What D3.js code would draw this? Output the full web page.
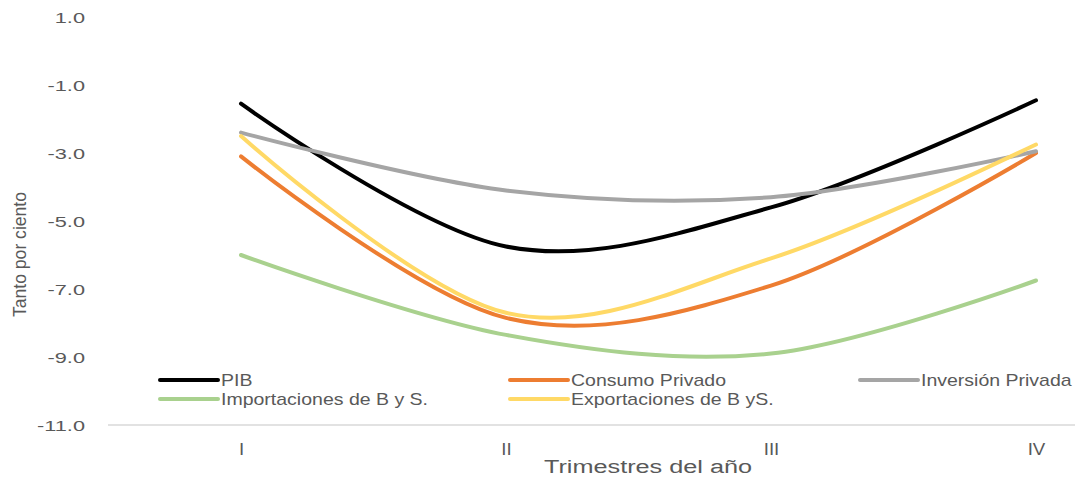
<!DOCTYPE html>
<html>
<head>
<meta charset="utf-8">
<script src="https://cdn.jsdelivr.net/npm/d3@7"></script>
<style>
  html, body { margin: 0; padding: 0; background: #ffffff; }
  svg { display: block; }
</style>
</head>
<body>
<svg id="chart" width="1080" height="480"></svg>
<script>
// Quarters of the year
const categories = ["I", "II", "III", "IV"];

// Quarterly change, in percent
const pib            = [-1.55, -5.75, -4.6, -1.45];
const consumo        = [-3.1, -7.85, -6.9, -3.0];
const inversion      = [-2.4, -4.1, -4.3, -2.95];
const importaciones  = [-6.0, -8.35, -8.9, -6.75];
const exportaciones  = [-2.5, -7.7, -6.1, -2.75];

const seriesNames  = ["PIB", "Consumo Privado", "Inversión Privada", "Importaciones de B y S.", "Exportaciones de B yS."];
const seriesColors = ["#000000", "#ED7D31", "#A5A5A5", "#A9D18E", "#FFD966"];
const seriesValues = [pib, consumo, inversion, importaciones, exportaciones];

const yTicks = [1, -1, -3, -5, -7, -9, -11];
const yTitle = "Tanto por ciento";
const xTitle = "Trimestres del año";

const sans = "'Liberation Sans', Arial, sans-serif";
const textColor = "#595959";

const svg = d3.select("#chart");

const y = d3.scaleLinear().domain([-11, 1]).range([425, 17]);
const x = d3.scalePoint().domain(categories).range([241, 1036]);

const fmt = d3.formatLocale({decimal: ".", thousands: ",", grouping: [3], currency: ["", ""], minus: "-"}).format(".1f");

// Y axis labels (wide digits)
const yAxis = svg.append("g").attr("transform", "translate(85,0)")
  .call(d3.axisLeft(y).tickValues(yTicks).tickFormat(fmt).tickSize(0).tickPadding(0));
yAxis.select(".domain").remove();
yAxis.selectAll("text")
  .attr("x", null)
  .attr("dy", "0.36em")
  .attr("transform", "scale(1.45,1)")
  .attr("fill", textColor)
  .style("font-family", sans)
  .style("font-size", "15px");

// Category axis
svg.append("line")
  .attr("x1", 108).attr("x2", 1075)
  .attr("y1", y(-11)).attr("y2", y(-11))
  .attr("stroke", "#d9d9d9").attr("stroke-width", 1.5);

const xAxis = svg.append("g").attr("transform", "translate(0,455)")
  .call(d3.axisBottom(x).tickSize(0).tickPadding(0));
xAxis.select(".domain").remove();
xAxis.selectAll(".tick text")
  .attr("y", 0).attr("dy", 0)
  .attr("transform", "scale(1.1,1)")
  .attr("fill", textColor)
  .style("font-family", sans)
  .style("font-size", "17px");

// Axis titles
svg.append("text")
  .attr("transform", "translate(648,473) scale(1.33,1)")
  .attr("text-anchor", "middle")
  .attr("fill", textColor)
  .style("font-family", sans)
  .style("font-size", "19px")
  .text(xTitle);

svg.append("text")
  .attr("transform", "translate(25.5,254.5) rotate(-90)")
  .attr("text-anchor", "middle")
  .attr("fill", textColor)
  .attr("textLength", 125)
  .attr("lengthAdjust", "spacingAndGlyphs")
  .style("font-family", sans)
  .style("font-size", "17.5px")
  .text(yTitle);

// Smoothed series lines
const line = d3.line()
  .x((d, i) => x(categories[i]))
  .y(d => y(d))
  .curve(d3.curveCardinal.tension(0));

svg.append("g").selectAll("path")
  .data(seriesValues)
  .join("path")
  .attr("d", d => line(d))
  .attr("fill", "none")
  .attr("stroke", (d, i) => seriesColors[i])
  .attr("stroke-width", 4)
  .attr("stroke-linecap", "round")
  .attr("stroke-linejoin", "round");

// Legend
const legendPos = [[160, 380], [510, 380], [860, 380], [160, 399], [510, 399]];
const legend = svg.append("g").selectAll("g")
  .data(seriesNames)
  .join("g")
  .attr("transform", (d, i) => `translate(${legendPos[i][0]},${legendPos[i][1]})`);

legend.append("line")
  .attr("x1", 0).attr("x2", 58)
  .attr("stroke", (d, i) => seriesColors[i])
  .attr("stroke-width", 4)
  .attr("stroke-linecap", "round");

legend.append("text")
  .attr("transform", "translate(61,6) scale(1.22,1)")
  .attr("fill", textColor)
  .style("font-family", sans)
  .style("font-size", "16px")
  .text(d => d);
</script>
</body>
</html>
